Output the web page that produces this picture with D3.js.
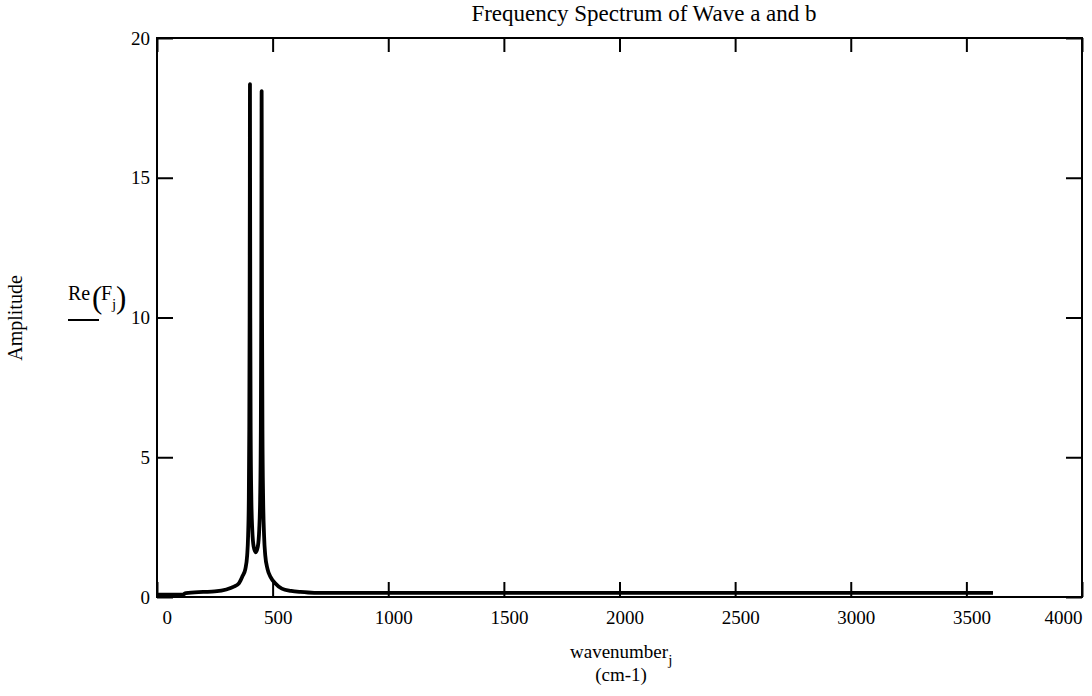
<!DOCTYPE html>
<html>
<head>
<meta charset="utf-8">
<script src="https://cdn.jsdelivr.net/npm/d3@7"></script>
<style>
  html, body { margin: 0; padding: 0; background: #fff; }
  svg text { font-family: "Liberation Serif", "Times New Roman", serif; fill: #000; }
</style>
</head>
<body>
<div id="chart"></div>
<script>
const wavenumbers = [0, 110, 125, 200, 250, 300, 330, 355, 370, 382, 390, 394, 397, 399, 400.5, 401.5, 402,
  402.5, 403.5, 405, 408, 412, 418, 427, 436, 442, 446, 449, 450.7, 451.8, 452.5, 453.2, 454.3, 456, 459,
  463, 468, 478, 492, 510, 540, 580, 620, 680, 1000, 2000, 3000, 3615];
const amplitudes = [0.08, 0.08, 0.14, 0.18, 0.2, 0.27, 0.36, 0.5, 0.75, 1.0, 1.5, 2.2, 3.5, 6, 10, 15, 18.35,
  15, 10, 6, 3.5, 2.4, 1.8, 1.6, 1.8, 2.4, 3.5, 6, 10, 15, 18.1, 15, 10, 6, 3.5,
  2.2, 1.5, 1.0, 0.7, 0.5, 0.3, 0.22, 0.18, 0.15, 0.15, 0.15, 0.15, 0.15];
const xTicks = [0, 500, 1000, 1500, 2000, 2500, 3000, 3500, 4000];
const yTicks = [0, 5, 10, 15, 20];

const width = 1092, height = 696;
const plot = { left: 157, right: 1082, top: 38, bottom: 597 };

const svg = d3.select('#chart').append('svg')
  .attr('width', width)
  .attr('height', height);

const x = d3.scaleLinear().domain([0, 4000]).range([plot.left, plot.right]);
const y = d3.scaleLinear().domain([0, 20]).range([plot.bottom, plot.top]);

// bottom axis with inward ticks, labels shifted like the original
const xAxis = svg.append('g')
  .attr('transform', `translate(0,${plot.bottom})`)
  .call(d3.axisBottom(x).tickValues(xTicks).tickSize(-15).tickPadding(14).tickFormat(d3.format('d')));
xAxis.selectAll('text')
  .style('font-size', '19px')
  .attr('text-anchor', (d, i) => i === 0 ? 'start' : (i === xTicks.length - 1 ? 'end' : 'middle'))
  .attr('x', (d, i) => i === xTicks.length - 1 ? 0 : 5);

svg.append('g')
  .attr('transform', `translate(0,${plot.top})`)
  .call(d3.axisTop(x).tickValues(xTicks).tickSize(-14).tickFormat(''));

const yAxis = svg.append('g')
  .attr('transform', `translate(${plot.left},0)`)
  .call(d3.axisLeft(y).tickValues(yTicks).tickSize(-16).tickPadding(7));
yAxis.selectAll('text').style('font-size', '19px');

svg.append('g')
  .attr('transform', `translate(${plot.right},0)`)
  .call(d3.axisRight(y).tickValues(yTicks).tickSize(-16).tickFormat(''));

svg.selectAll('.domain').remove();
svg.selectAll('.tick line').attr('stroke', '#000').attr('stroke-width', 2);

// frame
svg.append('rect')
  .attr('x', plot.left)
  .attr('y', plot.top)
  .attr('width', plot.right - plot.left)
  .attr('height', plot.bottom - plot.top)
  .attr('fill', 'none')
  .attr('stroke', '#000')
  .attr('stroke-width', 2);

// spectrum trace
const points = wavenumbers.map((w, i) => [w, amplitudes[i]]);
const line = d3.line().x(d => x(d[0])).y(d => y(d[1])).curve(d3.curveMonotoneX);
svg.append('path')
  .datum(points)
  .attr('d', line)
  .attr('fill', 'none')
  .attr('stroke', '#000')
  .attr('stroke-width', 3.8)
  .attr('stroke-linejoin', 'round');

// title
svg.append('text')
  .attr('x', 644)
  .attr('y', 21)
  .attr('text-anchor', 'middle')
  .style('font-size', '23px')
  .text('Frequency Spectrum of Wave a and b');

// y axis title
svg.append('text')
  .attr('transform', 'translate(22,318) rotate(-90)')
  .attr('text-anchor', 'middle')
  .style('font-size', '20px')
  .text('Amplitude');

// trace legend: Re(F_j) over a short line
const leg = svg.append('g');
leg.append('text').attr('x', 68).attr('y', 300).style('font-size', '20px').text('Re');
leg.append('text').attr('x', 92).attr('y', 308).style('font-size', '31px').text('(');
leg.append('text').attr('x', 101).attr('y', 300).style('font-size', '20px').text('F');
leg.append('text').attr('x', 112).attr('y', 309).style('font-size', '15px').text('j');
leg.append('text').attr('x', 116).attr('y', 308).style('font-size', '31px').text(')');
leg.append('line')
  .attr('x1', 68).attr('x2', 99)
  .attr('y1', 320).attr('y2', 320)
  .attr('stroke', '#000').attr('stroke-width', 2);

// x axis title
const xt = svg.append('text').attr('x', 570).attr('y', 658).style('font-size', '19px');
xt.append('tspan').text('wavenumber');
xt.append('tspan').attr('dy', 7).style('font-size', '15px').text('j');
svg.append('text')
  .attr('x', 621)
  .attr('y', 681)
  .attr('text-anchor', 'middle')
  .style('font-size', '19px')
  .text('(cm-1)');
</script>
</body>
</html>
